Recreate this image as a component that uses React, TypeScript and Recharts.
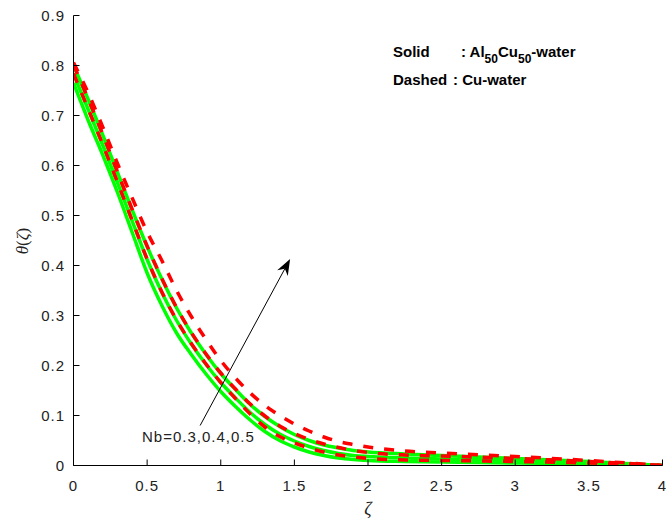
import { LineChart, Line, XAxis, YAxis, ReferenceLine } from "recharts";

// ζ grid shared by all six profiles
const zeta = [
  0, 0.1, 0.2, 0.3, 0.4, 0.5, 0.6, 0.7, 0.8, 0.9, 1.0, 1.1, 1.2, 1.3, 1.4,
  1.5, 1.6, 1.7, 1.8, 1.9, 2.0, 2.25, 2.5, 3, 3.5, 4,
];

// Al50Cu50-water (solid)
const hybridNb03 = [
  0.765, 0.69, 0.62, 0.545, 0.465, 0.385, 0.32, 0.265, 0.222, 0.183, 0.148,
  0.118, 0.091, 0.068, 0.05, 0.037, 0.027, 0.02, 0.015, 0.012, 0.01, 0.008,
  0.007, 0.005, 0.003, 0,
];
const hybridNb04 = [
  0.783, 0.712, 0.64, 0.565, 0.488, 0.412, 0.346, 0.29, 0.243, 0.202, 0.166,
  0.135, 0.106, 0.082, 0.063, 0.049, 0.038, 0.03, 0.024, 0.02, 0.018, 0.015,
  0.013, 0.01, 0.006, 0,
];
const hybridNb05 = [
  0.8, 0.732, 0.66, 0.585, 0.51, 0.438, 0.373, 0.315, 0.265, 0.222, 0.184,
  0.152, 0.122, 0.098, 0.078, 0.062, 0.05, 0.041, 0.035, 0.03, 0.027, 0.023,
  0.02, 0.014, 0.008, 0,
];

// Cu-water (dashed)
const cuNb03 = [
  0.784, 0.713, 0.641, 0.566, 0.489, 0.413, 0.347, 0.291, 0.244, 0.203, 0.166,
  0.134, 0.103, 0.077, 0.058, 0.045, 0.035, 0.027, 0.021, 0.017, 0.014, 0.011,
  0.01, 0.008, 0.005, 0,
];
const cuNb04 = [
  0.801, 0.733, 0.661, 0.586, 0.511, 0.439, 0.374, 0.316, 0.266, 0.223, 0.185,
  0.153, 0.123, 0.099, 0.079, 0.064, 0.052, 0.043, 0.036, 0.03, 0.026, 0.021,
  0.019, 0.014, 0.008, 0,
];
const cuNb05 = [
  0.806, 0.745, 0.676, 0.603, 0.534, 0.467, 0.41, 0.35, 0.298, 0.252, 0.21,
  0.175, 0.145, 0.12, 0.1, 0.083, 0.069, 0.057, 0.048, 0.042, 0.037, 0.029,
  0.025, 0.018, 0.01, 0,
];

const xTicks = [0, 0.5, 1, 1.5, 2, 2.5, 3, 3.5, 4];
const yTicks = [0, 0.1, 0.2, 0.3, 0.4, 0.5, 0.6, 0.7, 0.8, 0.9];
const xDomain = [0, 4];
const yDomain = [0, 0.9];

const arrowFrom = { x: 0.86, y: 0.08 };
const arrowTo = { x: 1.471, y: 0.413 };

const data = zeta.map((z, i) => ({
  z,
  h03: hybridNb03[i],
  h04: hybridNb04[i],
  h05: hybridNb05[i],
  c03: cuNb03[i],
  c04: cuNb04[i],
  c05: cuNb05[i],
}));

const sans = "'Liberation Sans', Arial, Helvetica, sans-serif";
const serif = "'Liberation Serif', 'Times New Roman', serif";
const tickStyle = { fill: "#222", fontSize: 15, fontFamily: sans, letterSpacing: 1 };
const axisLine = { stroke: "#000", strokeWidth: 1 };

const Arrow = (p: any) => {
  const { x1, y1, x2, y2 } = p;
  const a = Math.atan2(y2 - y1, x2 - x1);
  const len = 16;
  const half = 6;
  const notch = 11;
  const bx = x2 - len * Math.cos(a);
  const by = y2 - len * Math.sin(a);
  const nx = x2 - notch * Math.cos(a);
  const ny = y2 - notch * Math.sin(a);
  const px = -Math.sin(a) * half;
  const py = Math.cos(a) * half;
  const pts = `${x2},${y2} ${bx + px},${by + py} ${nx},${ny} ${bx - px},${by - py}`;
  return (
    <g>
      <line x1={x1} y1={y1} x2={nx} y2={ny} stroke="#000" strokeWidth={1} />
      <polygon points={pts} fill="#000" />
    </g>
  );
};

export default function App() {
  const solid = { type: "monotone" as const, stroke: "#00ff00", strokeWidth: 3.5, dot: false, isAnimationActive: false, xAxisId: "b", yAxisId: "l" };
  const dashed = { type: "monotone" as const, stroke: "#ff0000", strokeWidth: 3.5, strokeDasharray: "10 11", dot: false, isAnimationActive: false, xAxisId: "b", yAxisId: "l" };

  return (
    <div style={{ position: "absolute", left: 0, top: 0, width: 666, height: 525, background: "#fff" }}>
      <LineChart width={666} height={525} data={data} margin={{ top: 15.5, right: 3.5, bottom: 0, left: 0 }}>
        {/* box axes, ticks pointing inward */}
        <XAxis
          xAxisId="b"
          dataKey="z"
          type="number"
          domain={xDomain}
          allowDataOverflow
          ticks={xTicks}
          interval={0}
          height={59.5}
          tickSize={-6}
          tickMargin={21}
          axisLine={axisLine}
          tickLine={axisLine}
          tick={tickStyle}
        />
        <XAxis
          xAxisId="t"
          orientation="top"
          type="number"
          domain={xDomain}
          allowDataOverflow
          ticks={xTicks}
          interval={0}
          height={0}
          tickSize={-6}
          axisLine={axisLine}
          tickLine={axisLine}
          tick={false}
        />
        <YAxis
          yAxisId="l"
          type="number"
          domain={yDomain}
          allowDataOverflow
          ticks={yTicks}
          interval={0}
          width={73.5}
          tickSize={-6}
          tickMargin={14.5}
          axisLine={axisLine}
          tickLine={axisLine}
          tick={tickStyle}
        />
        <YAxis
          yAxisId="r"
          orientation="right"
          type="number"
          domain={yDomain}
          allowDataOverflow
          ticks={yTicks}
          interval={0}
          width={0}
          tickSize={-6}
          axisLine={axisLine}
          tickLine={axisLine}
          tick={false}
        />
        <Line {...solid} dataKey="h03" />
        <Line {...solid} dataKey="h04" />
        <Line {...solid} dataKey="h05" />
        <Line {...dashed} dataKey="c03" />
        <Line {...dashed} dataKey="c04" />
        <Line {...dashed} dataKey="c05" />
        <ReferenceLine
          xAxisId="b"
          yAxisId="l"
          segment={[arrowFrom, arrowTo]}
          shape={Arrow}
        />
      </LineChart>
      <svg width={666} height={525} style={{ position: "absolute", left: 0, top: 0, pointerEvents: "none" }}>
        <g fontFamily={sans} fontWeight="bold" fontSize={15} fill="#000">
          <text x={393} y={57}>Solid</text>
          <text x={461} y={57}>
            : Al<tspan fontSize={12} dy={6}>50</tspan>
            <tspan fontSize={15} dy={-6}>Cu</tspan>
            <tspan fontSize={12} dy={6}>50</tspan>
            <tspan fontSize={15} dy={-6}>-water</tspan>
          </text>
          <text x={393} y={85}>Dashed</text>
          <text x={453} y={85}>: Cu-water</text>
        </g>
        <text x={142} y={442} fontFamily={sans} fontSize={15} letterSpacing={1} fill="#222">
          Nb=0.3,0.4,0.5
        </text>
        <text x={368} y={515} textAnchor="middle" fontFamily={serif} fontStyle="italic" fontSize={18} fill="#222">
          ζ
        </text>
        <text transform="translate(28,241) rotate(-90)" textAnchor="middle" fontFamily={serif} fontSize={17} fill="#222">
          <tspan fontStyle="italic">θ</tspan>(<tspan fontStyle="italic">ζ</tspan>)
        </text>
      </svg>
    </div>
  );
}
